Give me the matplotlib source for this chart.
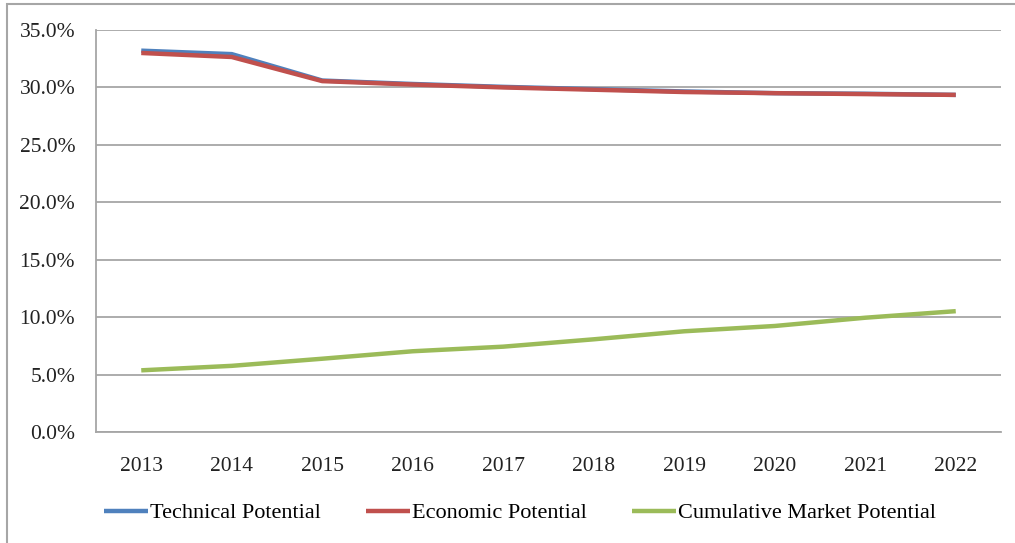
import matplotlib
matplotlib.use("Agg")
import matplotlib.pyplot as plt
from matplotlib.patches import Rectangle
from matplotlib.ticker import FuncFormatter

plt.rcParams["font.family"] = ["Liberation Serif", "DejaVu Serif"]

years = ["2013", "2014", "2015", "2016", "2017", "2018", "2019", "2020", "2021", "2022"]
technical = [33.2, 32.9, 30.6, 30.3, 30.05, 29.85, 29.65, 29.5, 29.45, 29.35]
economic = [33.0, 32.65, 30.55, 30.25, 30.0, 29.8, 29.6, 29.5, 29.42, 29.35]
cumulative = [5.37, 5.76, 6.38, 7.03, 7.43, 8.07, 8.77, 9.23, 9.95, 10.52]

names = ["Technical Potential", "Economic Potential", "Cumulative Market Potential"]
colors = ["#4F81BD", "#C0504D", "#9BBB59"]

fig = plt.figure(figsize=(10.15, 5.43), dpi=100)
ax = fig.add_axes([96 / 1015, 1 - 432 / 543, 905 / 1015, 402 / 543])

# outer chart-area border (cut off at right/bottom in the reference)
fig.patches.append(Rectangle((7 / 1015, -0.1), 1.2, 1 - 4 / 543 + 0.1,
                             transform=fig.transFigure, fill=False,
                             edgecolor="#A6A6A6", linewidth=1.5))

x = list(range(len(years)))
for vals, name, c in zip([technical, economic, cumulative], names, colors):
    ax.plot(x, vals, color=c, linewidth=3.2, label=name, solid_capstyle="butt")

ax.set_xlim(-0.5, len(years) - 0.5)
ax.set_ylim(0, 35)
ax.set_yticks([0, 5, 10, 15, 20, 25, 30, 35])
ax.yaxis.set_major_formatter(FuncFormatter(lambda v, p: f"{v:.1f}%"))
ax.set_xticks(x)
ax.set_xticklabels(years)
ax.grid(axis="y", color="#A6A6A6", linewidth=1.3)
ax.set_axisbelow(True)
for s in ["top", "right"]:
    ax.spines[s].set_visible(False)
for s in ["left", "bottom"]:
    ax.spines[s].set_color("#A6A6A6")
    ax.spines[s].set_linewidth(1.3)
ax.tick_params(axis="both", length=0, labelsize=15.5, colors="#222222")
ax.tick_params(axis="y", pad=15)
ax.tick_params(axis="x", pad=18)

ax.legend(loc="center", bbox_to_anchor=(520 / 1015, 1 - 513 / 543),
          bbox_transform=fig.transFigure, ncol=3, frameon=False,
          fontsize=16, handlelength=2.0, handletextpad=0.1, columnspacing=2.0)

fig.savefig("out.png", dpi=100)
